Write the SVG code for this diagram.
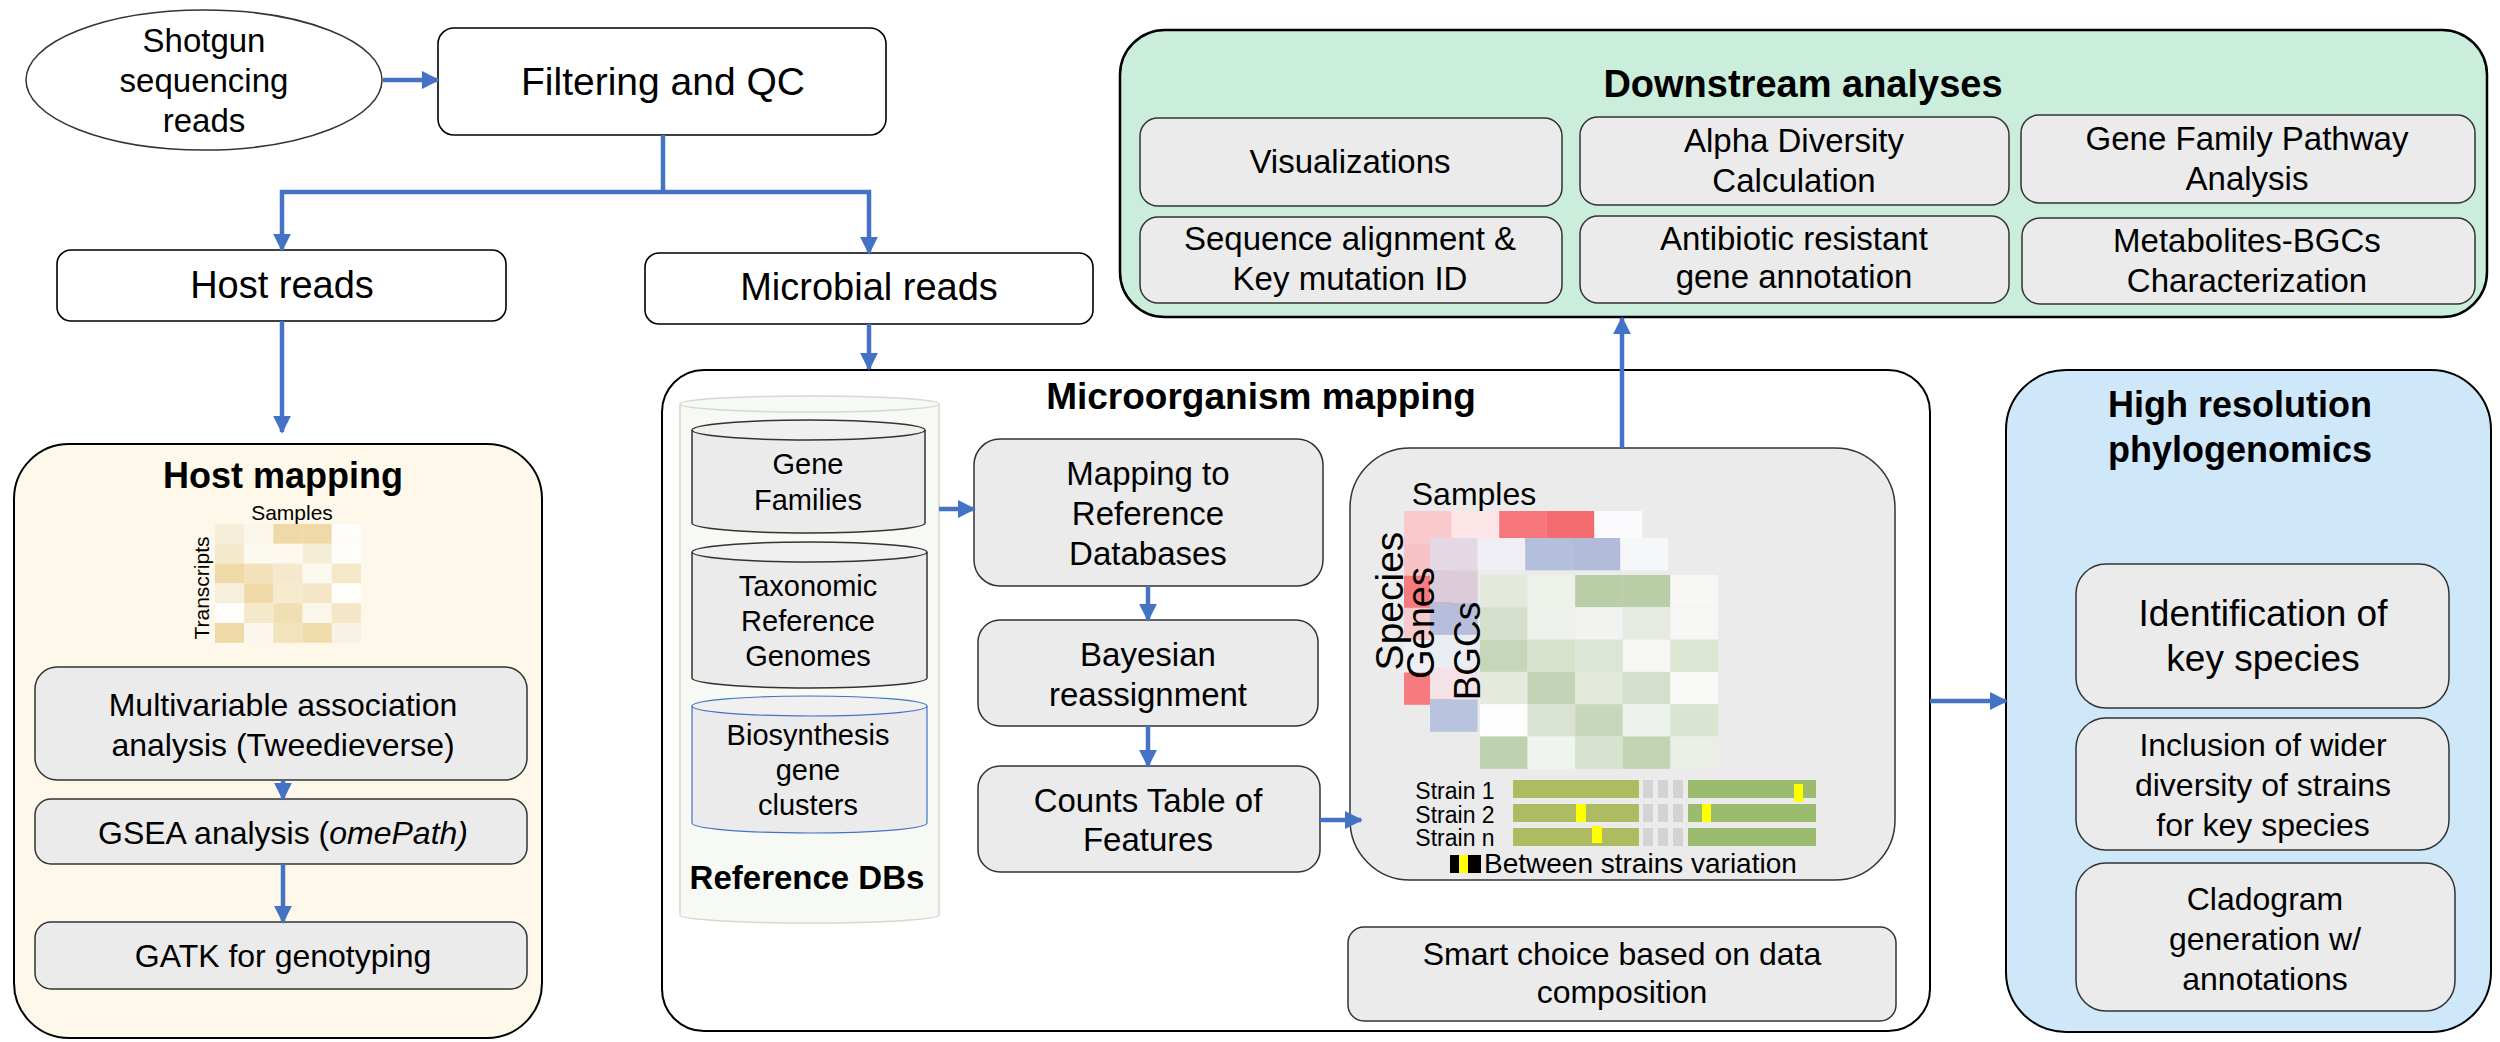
<svg xmlns="http://www.w3.org/2000/svg" width="2500" height="1042" viewBox="0 0 2500 1042">
<defs>
<style>
text{font-family:"Liberation Sans",Arial,sans-serif;fill:#000;text-anchor:middle}
.b{font-weight:bold}
.wbox{fill:#fff;stroke:#000;stroke-width:1.6}
.gbox{fill:#ebebeb;stroke:#333;stroke-width:1.5}
.con{fill:none;stroke:#4472c4;stroke-width:4.5}
.arr{fill:none;stroke:#4472c4;stroke-width:4.5;marker-end:url(#ah)}
</style>
<marker id="ah" viewBox="0 0 10 10" refX="9" refY="5" markerUnits="userSpaceOnUse" markerWidth="18" markerHeight="18" orient="auto">
<path d="M0,0 L10,5 L0,10 z" fill="#4472c4"/>
</marker>
</defs>
<rect width="2500" height="1042" fill="#fff"/>

<g id="shotgun">
<ellipse cx="204" cy="80" rx="178" ry="70" fill="#fff" stroke="#333" stroke-width="1.5"/>
<text x="204" y="52" font-size="33">Shotgun</text>
<text x="204" y="92" font-size="33">sequencing</text>
<text x="204" y="132" font-size="33">reads</text>
</g>

<g id="filtering">
<rect class="wbox" x="438" y="28" width="448" height="107" rx="16"/>
<text x="663" y="95" font-size="39">Filtering and QC</text>
</g>

<g id="host-reads">
<rect class="wbox" x="57" y="250" width="449" height="71" rx="14"/>
<text x="282" y="298" font-size="38">Host reads</text>
</g>

<g id="microbial-reads">
<rect class="wbox" x="645" y="253" width="448" height="71" rx="14"/>
<text x="869" y="300" font-size="38">Microbial reads</text>
</g>

<g id="host-mapping">
<rect x="14" y="444" width="528" height="594" rx="55" fill="#fef8ea" stroke="#000" stroke-width="2"/>
<text class="b" x="283" y="488" font-size="36">Host mapping</text>
<text x="292" y="520" font-size="21">Samples</text>
<text x="0" y="0" font-size="21" transform="translate(209,588) rotate(-90)">Transcripts</text>
<g id="host-heatmap">
<rect x="215" y="524" width="29.2" height="19.8" fill="#f6eed8"/>
<rect x="244.2" y="524" width="29.2" height="19.8" fill="#fbf6ea"/>
<rect x="273.4" y="524" width="29.2" height="19.8" fill="#efd9a6"/>
<rect x="302.6" y="524" width="29.2" height="19.8" fill="#efd9a6"/>
<rect x="331.8" y="524" width="29.2" height="19.8" fill="#fefdf9"/>
<rect x="215" y="543.8" width="29.2" height="19.8" fill="#f4e9cc"/>
<rect x="244.2" y="543.8" width="29.2" height="19.8" fill="#fcf9f0"/>
<rect x="273.4" y="543.8" width="29.2" height="19.8" fill="#fcf8ee"/>
<rect x="302.6" y="543.8" width="29.2" height="19.8" fill="#f6edd7"/>
<rect x="331.8" y="543.8" width="29.2" height="19.8" fill="#fefdf9"/>
<rect x="215" y="563.6" width="29.2" height="19.8" fill="#efd9a6"/>
<rect x="244.2" y="563.6" width="29.2" height="19.8" fill="#f2e1bb"/>
<rect x="273.4" y="563.6" width="29.2" height="19.8" fill="#f5e8cc"/>
<rect x="302.6" y="563.6" width="29.2" height="19.8" fill="#fcf9f0"/>
<rect x="331.8" y="563.6" width="29.2" height="19.8" fill="#f4e8c9"/>
<rect x="215" y="583.4" width="29.2" height="19.8" fill="#f6efdb"/>
<rect x="244.2" y="583.4" width="29.2" height="19.8" fill="#efd9a6"/>
<rect x="273.4" y="583.4" width="29.2" height="19.8" fill="#f6eacf"/>
<rect x="302.6" y="583.4" width="29.2" height="19.8" fill="#f4e6c6"/>
<rect x="331.8" y="583.4" width="29.2" height="19.8" fill="#fefdfa"/>
<rect x="215" y="603.2" width="29.2" height="19.8" fill="#fffdf9"/>
<rect x="244.2" y="603.2" width="29.2" height="19.8" fill="#f5e9cc"/>
<rect x="273.4" y="603.2" width="29.2" height="19.8" fill="#f1dfb4"/>
<rect x="302.6" y="603.2" width="29.2" height="19.8" fill="#fbf6ea"/>
<rect x="331.8" y="603.2" width="29.2" height="19.8" fill="#f4e7c7"/>
<rect x="215" y="623" width="29.2" height="19.8" fill="#efd9a6"/>
<rect x="244.2" y="623" width="29.2" height="19.8" fill="#fbf7ee"/>
<rect x="273.4" y="623" width="29.2" height="19.8" fill="#f3e3bd"/>
<rect x="302.6" y="623" width="29.2" height="19.8" fill="#f0dbab"/>
<rect x="331.8" y="623" width="29.2" height="19.8" fill="#f8f2e4"/>
</g>
</g>

<g id="multivariable">
<rect class="gbox" x="35" y="667" width="492" height="113" rx="22"/>
<text x="283" y="716" font-size="32">Multivariable association</text>
<text x="283" y="756" font-size="32">analysis (Tweedieverse)</text>
</g>

<g id="gsea">
<rect class="gbox" x="35" y="799" width="492" height="65" rx="16"/>
<text x="283" y="844" font-size="32">GSEA analysis (<tspan font-style="italic">omePath)</tspan></text>
</g>

<g id="gatk">
<rect class="gbox" x="35" y="922" width="492" height="67" rx="16"/>
<text x="283" y="967" font-size="32">GATK for genotyping</text>
</g>

<g id="microorganism-mapping">
<rect x="662" y="370" width="1268" height="661" rx="42" fill="#fff" stroke="#000" stroke-width="2"/>
<text class="b" x="1261" y="409" font-size="37">Microorganism mapping</text>
</g>

<g id="reference-dbs">
<path d="M680,404 V915 A129.5,8 0 0 0 939,915 V404" fill="#f7f9f4" stroke="#d5d9d0" stroke-width="1.5"/>
<ellipse cx="809.5" cy="404" rx="129.5" ry="8" fill="#f7f9f4" stroke="#d5d9d0" stroke-width="1.5"/>
<text class="b" x="807" y="889" font-size="33">Reference DBs</text>
</g>

<g id="gene-families">
<path d="M692,430 V523 A116.5,10 0 0 0 925,523 V430" fill="#ebebeb" stroke="#333" stroke-width="1.5"/>
<ellipse cx="808.5" cy="430" rx="116.5" ry="10" fill="#f0f0f0" stroke="#333" stroke-width="1.5"/>
<text x="808" y="474" font-size="29">Gene</text>
<text x="808" y="510" font-size="29">Families</text>
</g>

<g id="taxonomic">
<path d="M692,552 V678 A117.5,10 0 0 0 927,678 V552" fill="#ebebeb" stroke="#333" stroke-width="1.5"/>
<ellipse cx="809.5" cy="552" rx="117.5" ry="10" fill="#f0f0f0" stroke="#333" stroke-width="1.5"/>
<text x="808" y="596" font-size="29">Taxonomic</text>
<text x="808" y="631" font-size="29">Reference</text>
<text x="808" y="666" font-size="29">Genomes</text>
</g>

<g id="biosynthesis">
<path d="M692,706 V823 A117.5,10 0 0 0 927,823 V706" fill="#ebebeb" stroke="#4472c4" stroke-width="1.2"/>
<ellipse cx="809.5" cy="706" rx="117.5" ry="10" fill="#f0f0f0" stroke="#4472c4" stroke-width="1.2"/>
<text x="808" y="745" font-size="29">Biosynthesis</text>
<text x="808" y="780" font-size="29">gene</text>
<text x="808" y="815" font-size="29">clusters</text>
</g>

<g id="mapping-ref">
<rect class="gbox" x="974" y="439" width="349" height="147" rx="26"/>
<text x="1148" y="485" font-size="33">Mapping to</text>
<text x="1148" y="525" font-size="33">Reference</text>
<text x="1148" y="565" font-size="33">Databases</text>
</g>

<g id="bayesian">
<rect class="gbox" x="978" y="620" width="340" height="106" rx="22"/>
<text x="1148" y="666" font-size="33">Bayesian</text>
<text x="1148" y="706" font-size="33">reassignment</text>
</g>

<g id="counts">
<rect class="gbox" x="978" y="766" width="342" height="106" rx="22"/>
<text x="1148" y="812" font-size="33">Counts Table of</text>
<text x="1148" y="851" font-size="33">Features</text>
</g>

<g id="feature-tables">
<rect class="gbox" x="1350" y="448" width="545" height="432" rx="60"/>
<text x="1474" y="505" font-size="32">Samples</text>
<g id="species-layer">
<rect x="1404" y="511" width="47.6" height="32.3" fill="#f9c9cc"/>
<rect x="1451.6" y="511" width="47.6" height="32.3" fill="#fde5e8"/>
<rect x="1499.2" y="511" width="47.6" height="32.3" fill="#f6767c"/>
<rect x="1546.8" y="511" width="47.6" height="32.3" fill="#f56c70"/>
<rect x="1594.4" y="511" width="47.6" height="32.3" fill="#fbfbfd"/>
<rect x="1404" y="543.3" width="47.6" height="32.3" fill="#f8c2c6"/>
<rect x="1404" y="575.6" width="47.6" height="32.3" fill="#f67b7f"/>
<rect x="1404" y="607.9" width="47.6" height="32.3" fill="#f8c9cd"/>
<rect x="1404" y="640.2" width="47.6" height="32.3" fill="#eef0f6"/>
<rect x="1404" y="672.5" width="47.6" height="32.3" fill="#f67a7e"/>
</g>
<g id="genes-layer">
<rect x="1430" y="538" width="47.6" height="32.3" fill="#e4d8e4"/>
<rect x="1477.6" y="538" width="47.6" height="32.3" fill="#eeeef4"/>
<rect x="1525.2" y="538" width="47.6" height="32.3" fill="#b4c0db"/>
<rect x="1572.8" y="538" width="47.6" height="32.3" fill="#b2bcda"/>
<rect x="1620.4" y="538" width="47.6" height="32.3" fill="#f6f7f9"/>
<rect x="1430" y="570.3" width="47.6" height="32.3" fill="#dccbd9"/>
<rect x="1430" y="602.6" width="47.6" height="32.3" fill="#b6bedb"/>
<rect x="1430" y="634.9" width="47.6" height="32.3" fill="#eaedf4"/>
<rect x="1430" y="667.2" width="47.6" height="32.3" fill="#f4e2e7"/>
<rect x="1430" y="699.5" width="47.6" height="32.3" fill="#b8c3dd"/>
</g>
<g id="bgcs-layer">
<rect x="1480" y="575" width="47.6" height="32.3" fill="#e5e9dc"/>
<rect x="1527.6" y="575" width="47.6" height="32.3" fill="#eef0ea"/>
<rect x="1575.2" y="575" width="47.6" height="32.3" fill="#b9cea7"/>
<rect x="1622.8" y="575" width="47.6" height="32.3" fill="#b9cea7"/>
<rect x="1670.4" y="575" width="47.6" height="32.3" fill="#f7f8f5"/>
<rect x="1480" y="607.3" width="47.6" height="32.3" fill="#d6dfcc"/>
<rect x="1527.6" y="607.3" width="47.6" height="32.3" fill="#eff1ec"/>
<rect x="1575.2" y="607.3" width="47.6" height="32.3" fill="#f2f3f0"/>
<rect x="1622.8" y="607.3" width="47.6" height="32.3" fill="#e5ebe0"/>
<rect x="1670.4" y="607.3" width="47.6" height="32.3" fill="#f6f7f4"/>
<rect x="1480" y="639.6" width="47.6" height="32.3" fill="#c7d6b9"/>
<rect x="1527.6" y="639.6" width="47.6" height="32.3" fill="#d7e1cc"/>
<rect x="1575.2" y="639.6" width="47.6" height="32.3" fill="#dde5d6"/>
<rect x="1622.8" y="639.6" width="47.6" height="32.3" fill="#f6f6f4"/>
<rect x="1670.4" y="639.6" width="47.6" height="32.3" fill="#dce6d3"/>
<rect x="1480" y="671.9" width="47.6" height="32.3" fill="#e5eadf"/>
<rect x="1527.6" y="671.9" width="47.6" height="32.3" fill="#c4d3b5"/>
<rect x="1575.2" y="671.9" width="47.6" height="32.3" fill="#e2e8da"/>
<rect x="1622.8" y="671.9" width="47.6" height="32.3" fill="#d5e0cc"/>
<rect x="1670.4" y="671.9" width="47.6" height="32.3" fill="#f8f9f7"/>
<rect x="1480" y="704.2" width="47.6" height="32.3" fill="#fdfdfd"/>
<rect x="1527.6" y="704.2" width="47.6" height="32.3" fill="#dae3d3"/>
<rect x="1575.2" y="704.2" width="47.6" height="32.3" fill="#c6d7bb"/>
<rect x="1622.8" y="704.2" width="47.6" height="32.3" fill="#eef2ec"/>
<rect x="1670.4" y="704.2" width="47.6" height="32.3" fill="#d9e4d1"/>
<rect x="1480" y="736.5" width="47.6" height="32.3" fill="#bfd2b0"/>
<rect x="1527.6" y="736.5" width="47.6" height="32.3" fill="#f0f4ee"/>
<rect x="1575.2" y="736.5" width="47.6" height="32.3" fill="#d7e3cf"/>
<rect x="1622.8" y="736.5" width="47.6" height="32.3" fill="#c2d4b3"/>
<rect x="1670.4" y="736.5" width="47.6" height="32.3" fill="#e9efe5"/>
</g>
<text x="0" y="0" font-size="39" transform="translate(1403,601) rotate(-90)">Species</text>
<text x="0" y="0" font-size="38" transform="translate(1434,623) rotate(-90)">Genes</text>
<text x="0" y="0" font-size="37" transform="translate(1480,651) rotate(-90)">BGCs</text>
<g id="strains">
<text x="1455" y="799" font-size="23">Strain 1</text>
<text x="1455" y="823" font-size="23">Strain 2</text>
<text x="1455" y="846" font-size="23">Strain n</text>
<rect x="1513" y="780" width="126" height="18" fill="#afbb63"/>
<rect x="1513" y="804" width="126" height="18" fill="#afbb63"/>
<rect x="1513" y="828" width="126" height="18" fill="#afbb63"/>
<rect x="1643" y="780" width="10" height="18" fill="#d3d3d3"/>
<rect x="1658" y="780" width="10" height="18" fill="#d3d3d3"/>
<rect x="1673" y="780" width="10" height="18" fill="#d3d3d3"/>
<rect x="1643" y="804" width="10" height="18" fill="#d3d3d3"/>
<rect x="1658" y="804" width="10" height="18" fill="#d3d3d3"/>
<rect x="1673" y="804" width="10" height="18" fill="#d3d3d3"/>
<rect x="1643" y="828" width="10" height="18" fill="#d3d3d3"/>
<rect x="1658" y="828" width="10" height="18" fill="#d3d3d3"/>
<rect x="1673" y="828" width="10" height="18" fill="#d3d3d3"/>
<rect x="1688" y="780" width="128" height="18" fill="#9bbb6f"/>
<rect x="1688" y="804" width="128" height="18" fill="#9bbb6f"/>
<rect x="1688" y="828" width="128" height="18" fill="#9bbb6f"/>
<rect x="1794" y="784" width="9" height="18" fill="#ffff00"/>
<rect x="1576" y="804" width="10" height="18" fill="#ffff00"/>
<rect x="1702" y="804" width="9" height="18" fill="#ffff00"/>
<rect x="1592" y="826" width="10" height="17" fill="#ffff00"/>
<rect x="1450" y="855" width="31" height="18" fill="#000"/>
<rect x="1459" y="855" width="9" height="18" fill="#ffff00"/>
<text x="1484" y="873" font-size="28" style="text-anchor:start">Between strains variation</text>
</g>
</g>

<g id="smart-choice">
<rect class="gbox" x="1348" y="927" width="548" height="94" rx="16"/>
<text x="1622" y="965" font-size="32">Smart choice based on data</text>
<text x="1622" y="1003" font-size="32">composition</text>
</g>

<g id="downstream">
<rect x="1120" y="30" width="1367" height="287" rx="45" fill="#cbeedc" stroke="#000" stroke-width="2.5"/>
<text class="b" x="1803" y="97" font-size="38">Downstream analyses</text>
</g>
<g id="visualizations">
<rect class="gbox" x="1140" y="118" width="422" height="88" rx="18"/>
<text x="1350" y="173" font-size="33">Visualizations</text>
</g>
<g id="alpha-diversity">
<rect class="gbox" x="1580" y="117" width="429" height="88" rx="18"/>
<text x="1794" y="152" font-size="33">Alpha Diversity</text>
<text x="1794" y="192" font-size="33">Calculation</text>
</g>
<g id="gene-family-pathway">
<rect class="gbox" x="2021" y="115" width="454" height="88" rx="18"/>
<text x="2247" y="150" font-size="33">Gene Family Pathway</text>
<text x="2247" y="190" font-size="33">Analysis</text>
</g>
<g id="sequence-alignment">
<rect class="gbox" x="1140" y="217" width="422" height="86" rx="18"/>
<text x="1350" y="250" font-size="33">Sequence alignment &amp;</text>
<text x="1350" y="290" font-size="33">Key mutation ID</text>
</g>
<g id="antibiotic">
<rect class="gbox" x="1580" y="216" width="429" height="87" rx="18"/>
<text x="1794" y="250" font-size="33">Antibiotic resistant</text>
<text x="1794" y="288" font-size="33">gene annotation</text>
</g>
<g id="metabolites">
<rect class="gbox" x="2022" y="218" width="453" height="86" rx="18"/>
<text x="2247" y="252" font-size="33">Metabolites-BGCs</text>
<text x="2247" y="292" font-size="33">Characterization</text>
</g>

<g id="high-resolution">
<rect x="2006" y="370" width="485" height="662" rx="60" fill="#cfe8f9" stroke="#000" stroke-width="2"/>
<text class="b" x="2240" y="417" font-size="36">High resolution</text>
<text class="b" x="2240" y="462" font-size="36">phylogenomics</text>
</g>
<g id="identification">
<rect class="gbox" x="2076" y="564" width="373" height="144" rx="30"/>
<text x="2263" y="626" font-size="37">Identification of</text>
<text x="2263" y="671" font-size="37">key species</text>
</g>
<g id="inclusion">
<rect class="gbox" x="2076" y="718" width="373" height="132" rx="30"/>
<text x="2263" y="756" font-size="32">Inclusion of wider</text>
<text x="2263" y="796" font-size="32">diversity of strains</text>
<text x="2263" y="836" font-size="32">for key species</text>
</g>
<g id="cladogram">
<rect class="gbox" x="2076" y="863" width="379" height="148" rx="30"/>
<text x="2265" y="910" font-size="32">Cladogram</text>
<text x="2265" y="950" font-size="32">generation w/</text>
<text x="2265" y="990" font-size="32">annotations</text>
</g>

<g id="connectors">
<path class="arr" d="M383,80 H438"/>
<path class="con" d="M663,135 V192 M280,192 H871"/>
<path class="arr" d="M282,190 V250"/>
<path class="arr" d="M869,190 V253"/>
<path class="arr" d="M282,321 V432"/>
<path class="arr" d="M869,324 V369"/>
<path class="arr" d="M283,780 V799"/>
<path class="arr" d="M283,864 V922"/>
<path class="arr" d="M939,509 H974"/>
<path class="arr" d="M1148,586 V620"/>
<path class="arr" d="M1148,726 V766"/>
<path class="arr" d="M1320,820 H1361"/>
<path class="arr" d="M1622,448 V318"/>
<path class="arr" d="M1930,701 H2006"/>
</g>
</svg>
